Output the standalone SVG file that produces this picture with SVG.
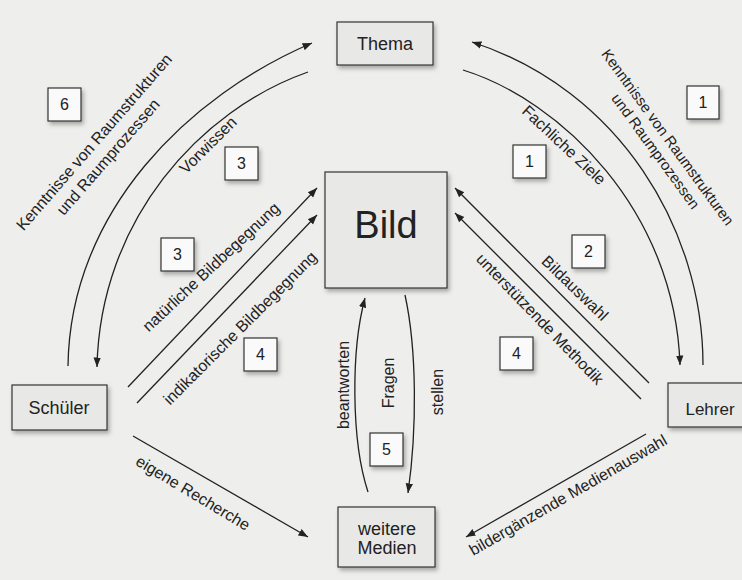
<svg xmlns="http://www.w3.org/2000/svg" width="742" height="580" viewBox="0 0 742 580">
<defs>
<style>
.node{fill:#e8e8e6;stroke:#333;stroke-width:1.2}
.num{fill:#fafafa;stroke:#333;stroke-width:1.2}
.t{font-family:"Liberation Sans",Arial,sans-serif;fill:#222}
.nt{font-size:18px;text-anchor:middle}
.lbl{font-size:16px;text-anchor:middle;dominant-baseline:central}
.nm{font-size:16px;text-anchor:middle}
.c{fill:none;stroke:#222;stroke-width:1.3}
.a{marker-end:url(#ah)}
</style>
<marker id="ah" markerWidth="11" markerHeight="9" refX="9.5" refY="4.5" orient="auto" markerUnits="userSpaceOnUse">
<path d="M0,0.8 L9.5,4.5 L0,8.2 z" fill="#222"/>
</marker>
<filter id="sh" x="-20%" y="-20%" width="150%" height="150%">
<feDropShadow dx="2" dy="3" stdDeviation="2" flood-color="#000" flood-opacity="0.3"/>
</filter>
</defs>
<rect x="0" y="0" width="742" height="580" fill="#eeeeec"/>

<g id="connectors">
<path class="c a" d="M68,366 C70,210 190,95 312,43"/>
<path class="c a" d="M308,72 C200,110 100,220 97,367"/>
<path class="c a" d="M703,365 C703,230 620,90 472,42"/>
<path class="c a" d="M463,70 C560,100 675,210 680,365"/>
<path class="c a" d="M128,387 L317,188"/>
<path class="c a" d="M137,403 L317,215"/>
<path class="c a" d="M649,383 L455,188"/>
<path class="c a" d="M641,399 L455,213"/>
<path class="c a" d="M133,436 L308,537"/>
<path class="c a" d="M646,434 L466,537"/>
<path class="c a" d="M405,295 C417,350 417,430 408,493"/>
<path class="c a" d="M368,492 C351,440 351,350 365,298"/>

<text class="t lbl" transform="translate(94,142) rotate(-49)">Kenntnisse von Raumstrukturen</text>
<text class="t lbl" transform="translate(108,157) rotate(-49)">und Raumprozessen</text>
<text class="t lbl" transform="translate(208,145) rotate(-45)">Vorwissen</text>
<text class="t lbl" font-size="15" style="font-size:15px" transform="translate(668,137) rotate(54)">Kenntnisse von Raumstrukturen</text>
<text class="t lbl" font-size="15" style="font-size:15px" transform="translate(656,151) rotate(54)">und Raumprozessen</text>
<text class="t lbl" transform="translate(564,145) rotate(43)">Fachliche Ziele</text>
<text class="t lbl" transform="translate(211,267) rotate(-43)">natürliche Bildbegegnung</text>
<text class="t lbl" transform="translate(240,328) rotate(-45)">indikatorische Bildbegegnung</text>
<text class="t lbl" transform="translate(575,288) rotate(44)">Bildauswahl</text>
<text class="t lbl" transform="translate(540,319) rotate(46)">unterstützende Methodik</text>
<text class="t lbl" transform="translate(193,493) rotate(31)">eigene Recherche</text>
<text class="t lbl" transform="translate(568,495) rotate(-30)">bildergänzende Medienauswahl</text>
<text class="t lbl" transform="translate(343,385) rotate(-90)">beantworten</text>
<text class="t lbl" transform="translate(388,383) rotate(-90)">Fragen</text>
<text class="t lbl" transform="translate(437,392) rotate(-90)">stellen</text>
</g>

<g id="thema">
<rect class="node" x="337" y="22" width="96" height="43" filter="url(#sh)"/>
<text class="t nt" x="385" y="50">Thema</text>
</g>
<g id="bild">
<rect class="node" x="325" y="172" width="122" height="116" filter="url(#sh)"/>
<text class="t" x="386" y="238" font-size="38" text-anchor="middle">Bild</text>
</g>
<g id="schueler">
<rect class="node" x="12" y="385" width="95" height="45" filter="url(#sh)"/>
<text class="t nt" x="59" y="414">Schüler</text>
</g>
<g id="lehrer">
<rect class="node" x="668" y="383" width="90" height="44" filter="url(#sh)"/>
<text class="t" x="710" y="415" font-size="17" text-anchor="middle">Lehrer</text>
</g>
<g id="medien">
<rect class="node" x="338" y="507" width="97" height="60" filter="url(#sh)"/>
<text class="t nt" x="387" y="535">weitere</text>
<text class="t nt" x="387" y="554">Medien</text>
</g>

<g id="n6"><rect class="num" x="48" y="88" width="33" height="33" filter="url(#sh)"/><text class="t nm" x="64.5" y="110">6</text></g>
<g id="n3a"><rect class="num" x="225" y="147" width="33" height="33" filter="url(#sh)"/><text class="t nm" x="241.5" y="169">3</text></g>
<g id="n3b"><rect class="num" x="161" y="238" width="33" height="33" filter="url(#sh)"/><text class="t nm" x="177.5" y="260">3</text></g>
<g id="n4a"><rect class="num" x="244" y="338" width="33" height="33" filter="url(#sh)"/><text class="t nm" x="260.5" y="360">4</text></g>
<g id="n1a"><rect class="num" x="513" y="145" width="33" height="33" filter="url(#sh)"/><text class="t nm" x="529.5" y="167">1</text></g>
<g id="n1b"><rect class="num" x="687" y="86" width="32" height="33" filter="url(#sh)"/><text class="t nm" x="703" y="108">1</text></g>
<g id="n2"><rect class="num" x="572" y="235" width="33" height="33" filter="url(#sh)"/><text class="t nm" x="588.5" y="257">2</text></g>
<g id="n4b"><rect class="num" x="500" y="337" width="33" height="33" filter="url(#sh)"/><text class="t nm" x="516.5" y="359">4</text></g>
<g id="n5"><rect class="num" x="370" y="433" width="33" height="33" filter="url(#sh)"/><text class="t nm" x="386.5" y="455">5</text></g>
</svg>
